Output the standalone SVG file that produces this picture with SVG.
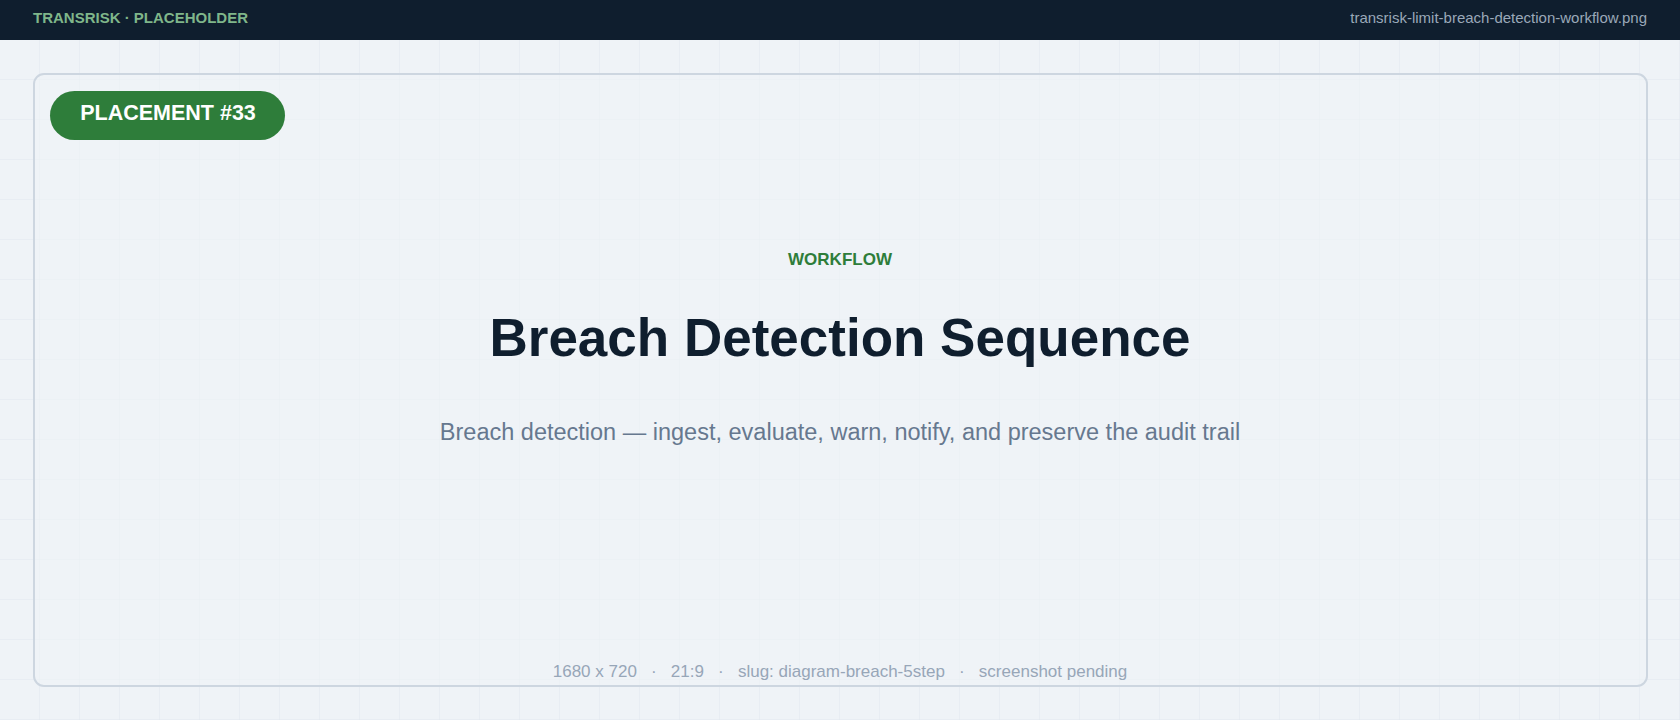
<svg xmlns="http://www.w3.org/2000/svg" width="1680" height="720" viewBox="0 0 1680 720">
<defs>
<pattern id="grid" width="40" height="40" patternUnits="userSpaceOnUse"><path d="M40 0V40M0 40H40" fill="none" stroke="#e1e7ee" stroke-width="1"/></pattern>
<style>
.hdr{font-family:"Liberation Sans",Arial,sans-serif;font-size:15px}
.c{font-family:"Liberation Sans",Arial,sans-serif;text-anchor:middle}
</style>
</defs>
<rect width="1680" height="720" fill="#eff3f7"/>
<rect y="40" width="1680" height="680" fill="url(#grid)"/>
<g id="header">
<rect width="1680" height="40" fill="#0f1e2e"/>
<text class="hdr" x="33" y="23" font-weight="bold" fill="#7fb68a">TRANSRISK  ·  PLACEHOLDER</text>
<text class="hdr" x="1647" y="23" text-anchor="end" fill="#9aa8b8">transrisk-limit-breach-detection-workflow.png</text>
</g>
<g id="panel">
<rect x="34" y="74" width="1613" height="612" rx="10" fill="#eff3f7" fill-opacity="0.6" stroke="#cdd6e0" stroke-width="2"/>
</g>
<g id="badge">
<rect x="50" y="91" width="235" height="49" rx="24.5" fill="#2e7d3a"/>
<text class="c" x="168" y="120" font-size="21.5" font-weight="bold" fill="#ffffff">PLACEMENT #33</text>
</g>
<g id="content">
<text class="c" x="840" y="265" font-size="17" font-weight="bold" fill="#2e7d3a">WORKFLOW</text>
<text class="c" x="840" y="356" font-size="53" font-weight="bold" fill="#0f1e2e">Breach Detection Sequence</text>
<text class="c" x="840" y="440" font-size="23.5" fill="#66788f">Breach detection — ingest, evaluate, warn, notify, and preserve the audit trail</text>
<text class="c" x="840" y="677" font-size="17" fill="#97a6b8" xml:space="preserve">1680 x 720   ·   21:9   ·   slug: diagram-breach-5step   ·   screenshot pending</text>
</g>
<g id="connectors"/>
</svg>
